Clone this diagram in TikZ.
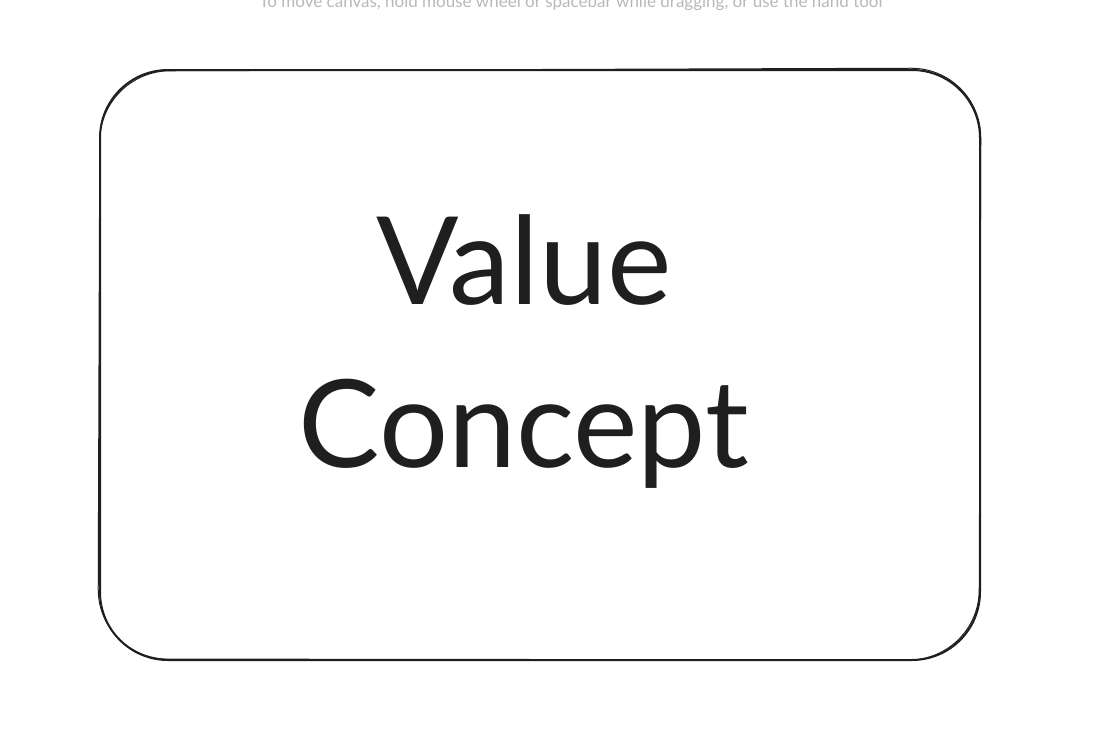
\documentclass[tikz,border=0pt]{standalone}
\usepackage{fontspec}
\setmainfont{Lato}
\usepackage{xcolor}
\usetikzlibrary{positioning,calc}

\begin{document}
\begin{tikzpicture}[
      x=1pt, y=-1pt,
      conceptbox/.style={draw=black!88, line width=2pt, rounded corners=68pt, minimum width=880pt, minimum height=590pt, align=center, font=\fontsize{122}{163}\selectfont, text=black!88, inner sep=0pt},
      hint/.style={font=\fontsize{17}{19}\selectfont, text=black!28, anchor=base}
  ]
    \useasboundingbox (0,0) rectangle (1096,732);
    \node[hint] (tip) at (571,7) {To move canvas, hold mouse wheel or spacebar while dragging, or use the hand tool};
    \node[conceptbox] (value) at (540,365) {\raisebox{5pt}[0pt][0pt]{\kern-32pt\begin{tabular}{@{}c@{}}Value\\Concept\end{tabular}}};
    % second rough stroke
    \draw[black!88, line width=1pt, rounded corners=70pt] ($(value.north west)+(1,2)$) -- ($(value.north east)+(0,-1)$) -- ($(value.south east)+(-2,-1)$) -- ($(value.south west)+(-1,-2)$) -- cycle;
  \end{tikzpicture}
\end{document}
